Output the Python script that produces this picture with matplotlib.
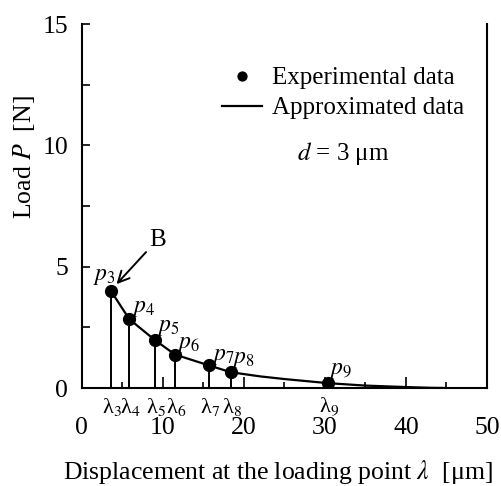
import numpy as np
import matplotlib.pyplot as plt

plt.rcParams['font.family'] = ['Liberation Serif', 'DejaVu Serif']
plt.rcParams['mathtext.fontset'] = 'stix'

# experimental points p3..p9
exp_x = [3.6, 5.85, 9.0, 11.5, 15.7, 18.4, 30.4]
exp_y = [4.0, 2.84, 1.98, 1.38, 0.93, 0.65, 0.20]
point_ids = ['3', '4', '5', '6', '7', '8', '9']

# approximated curve
fit_x = [3.6, 5.85, 9.0, 11.5, 15.7, 18.4, 22.0, 25.0, 30.4, 35.0, 40.0, 43.0, 45.0]
fit_y = [4.0, 2.84, 1.98, 1.38, 0.93, 0.65, 0.48, 0.37, 0.20, 0.10, 0.04, 0.01, 0.0]

fig = plt.figure(figsize=(5.02, 4.86), dpi=100)
ax = fig.add_axes([0.163, 0.2016, 0.807, 0.749])

ax.plot(fit_x, fit_y, color='black', lw=1.6, label='Approximated data')
ax.plot(exp_x, exp_y, 'o', color='black', ms=8.5, label='Experimental data')
ax.vlines(exp_x, 0, exp_y, color='black', lw=1.4)

# p labels next to points (offsets in pixels)
p_off = [(-7, 14), (15, 11), (14, 12), (14, 10), (14, 9), (13, 13), (13, 13)]
for x, y, n, off in zip(exp_x, exp_y, point_ids, p_off):
    ax.annotate('$p_{%s}$' % n, xy=(x, y), xytext=off, textcoords='offset pixels',
                ha='center', va='center', fontsize=17)
    ax.annotate('λ$_{%s}$' % n, xy=(x, 0), xytext=(1, -19), textcoords='offset pixels',
                ha='center', va='center', fontsize=16, annotation_clip=False)

ax.annotate('B', xy=(4.28, 4.28), xytext=(9.3, 6.1), fontsize=18, ha='center', va='center',
            arrowprops=dict(arrowstyle='->', color='black', lw=1.4, shrinkA=0, shrinkB=0,
                            mutation_scale=20))

ax.set_xlim(0, 50)
ax.set_ylim(0, 15)
ax.set_xticks([0, 10, 20, 30, 40, 50])
ax.set_xticks(np.arange(5, 50, 10), minor=True)
ax.set_yticks([0, 5, 10, 15])
ax.set_yticks([2.5, 7.5, 12.5], minor=True)
ax.tick_params(axis='both', which='both', direction='in', labelsize=18.5, width=1.2)
ax.tick_params(axis='x', which='major', length=8, pad=21)
ax.tick_params(axis='x', which='minor', length=4)
ax.tick_params(axis='y', which='major', length=6, pad=10)
ax.tick_params(axis='y', which='minor', length=6)
ax.spines['top'].set_visible(False)
for s in ['left', 'bottom', 'right']:
    ax.spines[s].set_linewidth(1.5)

ax.set_xlabel(r'Displacement at the loading point $\lambda$  [μm]', fontsize=18.5)
ax.xaxis.label.set_va('baseline')
ax.xaxis.set_label_coords(0.485, -0.25)
ax.set_ylabel(r'Load $P$  [N]', fontsize=18.5)
ax.yaxis.set_label_coords(-0.111, 0.635)

h, l = ax.get_legend_handles_labels()
ax.legend([h[1], h[0]], [l[1], l[0]], loc='upper left', bbox_to_anchor=(0.291, 0.944),
          frameon=False, fontsize=18, handlelength=1.6, markerscale=0.75,
          handletextpad=0.4, labelspacing=0.3, borderpad=0.4)
ax.text(32.2, 9.65, '$d$ = 3 μm', fontsize=18, ha='center', va='center')

fig.savefig('out.png', dpi=100)
